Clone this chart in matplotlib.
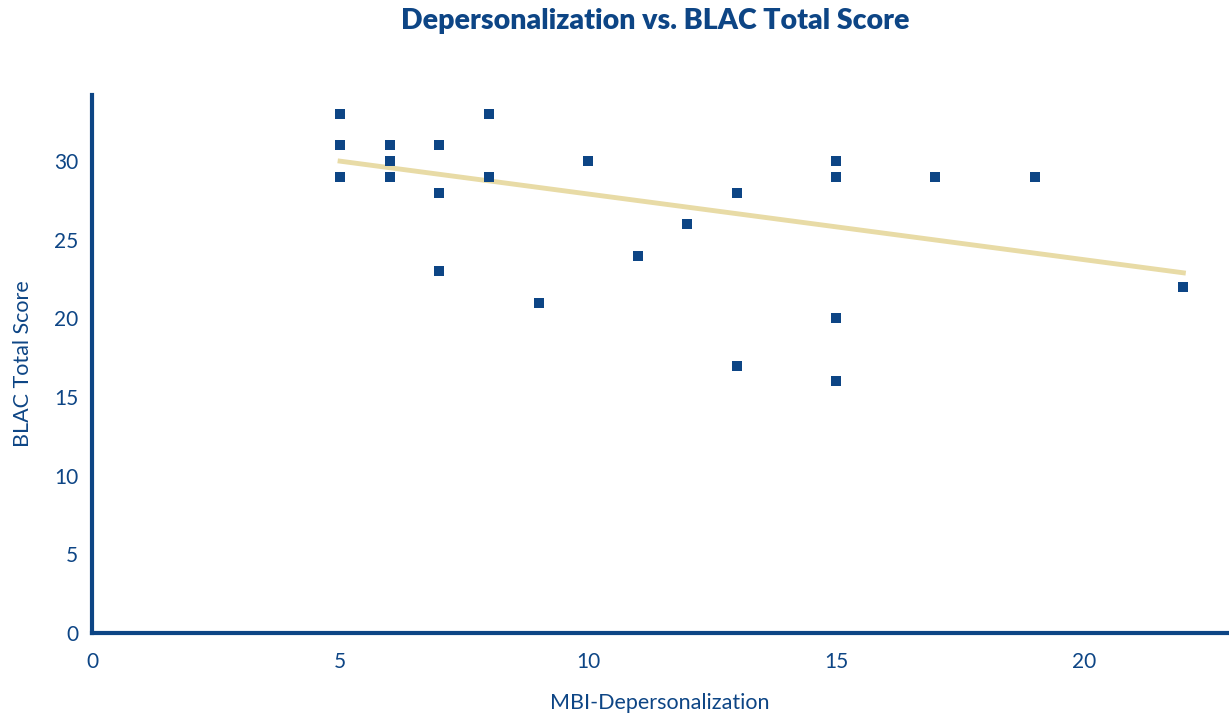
import matplotlib.pyplot as plt

# Dữ liệu
mbi_dep = [5, 5, 5, 6, 6, 6, 7, 7, 7, 8, 8, 9, 10, 11, 12, 13, 13, 15, 15, 15, 15, 17, 19, 22]
blac_total = [33, 31, 29, 31, 30, 29, 31, 28, 23, 33, 29, 21, 30, 24, 26, 28, 17, 30, 29, 20, 16, 29, 29, 22]

# Đường xu hướng (hai đầu mút)
trend_x = [5, 22]
trend_y = [30.0, 22.9]

x_ticks = [0, 5, 10, 15, 20]
y_ticks = [0, 5, 10, 15, 20, 25, 30]

navy = '#0d4585'
tan = '#e8dba6'

plt.rcParams['font.family'] = ['Lato', 'DejaVu Sans']

fig = plt.figure(figsize=(12.29, 7.15), dpi=100)
ax = fig.add_axes([0.0749, 0.1147, 0.9243, 0.7523])

ax.plot(trend_x, trend_y, c=tan, lw=3.5, zorder=2)
ax.scatter(mbi_dep, blac_total, marker='s', s=60, c=navy, zorder=3, linewidths=0)

ax.set_xlim(0, 22.9)
ax.set_ylim(0, 34.2)
ax.set_xticks(x_ticks)
ax.set_yticks(y_ticks)

for side in ['top', 'right']:
    ax.spines[side].set_visible(False)
for side in ['left', 'bottom']:
    ax.spines[side].set_color(navy)
    ax.spines[side].set_linewidth(3)

ax.tick_params(length=0, colors=navy, labelsize=15)
ax.tick_params(axis='x', pad=14)
ax.tick_params(axis='y', pad=10)

ax.set_xlabel("MBI-Depersonalization", color=navy, fontsize=15.5, labelpad=15)
ax.set_ylabel("BLAC Total Score", color=navy, fontsize=15.5, labelpad=15)

fig.text(0.533, 0.97, "Depersonalization vs. BLAC Total Score",
         color=navy, fontsize=20.5, fontweight='heavy', ha='center', va='center')

fig.savefig('out.png', dpi=100)
